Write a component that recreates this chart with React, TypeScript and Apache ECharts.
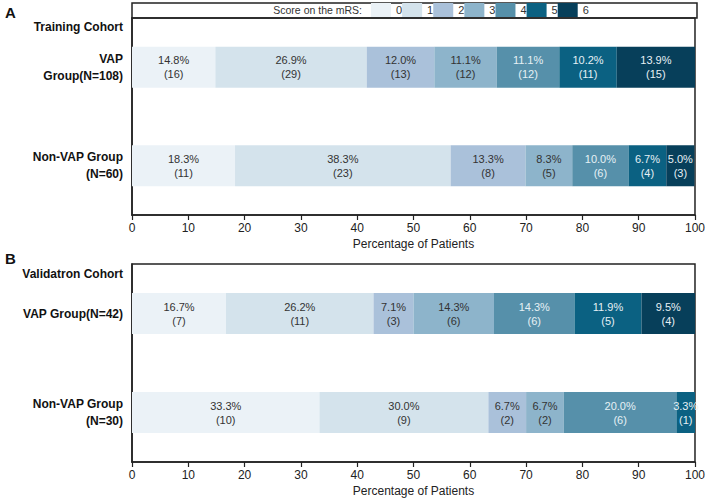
import React, { useEffect, useRef } from "react";
import * as echarts from "echarts";

const scores = ["0", "1", "2", "3", "4", "5", "6"];
const colors = ["#ebf2f7", "#d4e3ec", "#aac1da", "#8db4cb", "#5690aa", "#0b6182", "#073f5a"];
const labelColors = ["#333", "#333", "#333", "#333", "#e6f0f5", "#e6f0f5", "#e6f0f5"];

const trainingGroups = ["VAP\nGroup(N=108)", "Non-VAP Group\n(N=60)"];
const validationGroups = ["VAP Group(N=42)", "Non-VAP Group\n(N=30)"];

const trainVapPct = [14.8, 26.9, 12.0, 11.1, 11.1, 10.2, 13.9];
const trainVapN = [16, 29, 13, 12, 12, 11, 15];
const trainNonPct = [18.3, 38.3, 13.3, 8.3, 10.0, 6.7, 5.0];
const trainNonN = [11, 23, 8, 5, 6, 4, 3];
const valVapPct = [16.7, 26.2, 7.1, 14.3, 14.3, 11.9, 9.5];
const valVapN = [7, 11, 3, 6, 6, 5, 4];
const valNonPct = [33.3, 30.0, 6.7, 6.7, 20.0, 3.3, 0];
const valNonN = [10, 9, 2, 2, 6, 1, 0];

const xTicks = { min: 0, max: 100, interval: 10 };

export default function App() {
  const ref = useRef<HTMLDivElement>(null);
  useEffect(() => {
    if (!ref.current) return;
    const chart = echarts.init(ref.current, null, { renderer: "svg" });
    const font = "Liberation Sans, Arial, sans-serif";

    const makeSeries = (gridIdx: number, pctA: number[], nA: number[], pctB: number[], nB: number[]) =>
      scores.map((s, i) => ({
        name: s,
        type: "bar",
        stack: "g" + gridIdx,
        xAxisIndex: gridIdx,
        yAxisIndex: gridIdx,
        barWidth: 41,
        itemStyle: { color: colors[i] },
        data: [
          { value: pctA[i], n: nA[i] },
          { value: pctB[i], n: nB[i] },
        ],
        label: {
          show: true,
          position: "inside",
          fontFamily: font,
          fontSize: 11,
          lineHeight: 14,
          color: labelColors[i],
          formatter: (p: any) =>
            p.value > 0 ? p.value.toFixed(1) + "%\n(" + p.data.n + ")" : "",
        },
      }));

    const xAxis = (gridIndex: number) => ({
      type: "value",
      gridIndex,
      ...xTicks,
      name: "Percentage of Patients",
      nameLocation: "middle",
      nameGap: 23,
      nameTextStyle: { fontFamily: font, fontSize: 12, color: "#222" },
      axisLine: { show: true, lineStyle: { color: "#222", width: 1.5 } },
      axisTick: { show: true, length: 5, lineStyle: { color: "#222", width: 1.2 } },
      axisLabel: { fontFamily: font, fontSize: 12, color: "#222", margin: 7 },
      splitLine: { show: false },
    });
    const yAxis = (gridIndex: number, data: string[]) => ({
      type: "category",
      gridIndex,
      data,
      inverse: true,
      axisLine: { show: true, lineStyle: { color: "#222", width: 1.5 } },
      axisTick: { show: false },
      axisLabel: {
        fontFamily: font,
        fontSize: 12,
        fontWeight: "bold",
        color: "#111",
        lineHeight: 17,
        margin: 9,
      },
    });

    chart.setOption({
      animation: false,
      legend: {
        data: scores,
        left: 371,
        top: 3,
        padding: 0,
        itemWidth: 20,
        itemHeight: 14,
        itemGap: 0,
        icon: "rect",
        selectedMode: false,
        textStyle: { fontFamily: font, fontSize: 11, color: "#333" },
      },
      grid: [
        { left: 132, right: 11, top: 18, height: 197, show: true, borderColor: "#222", borderWidth: 1.5 },
        { left: 132, right: 11, top: 264, height: 198, show: true, borderColor: "#222", borderWidth: 1.5 },
      ],
      xAxis: [xAxis(0), xAxis(1)],
      yAxis: [yAxis(0, trainingGroups), yAxis(1, validationGroups)],
      series: [
        ...makeSeries(0, trainVapPct, trainVapN, trainNonPct, trainNonN),
        ...makeSeries(1, valVapPct, valVapN, valNonPct, valNonN),
      ],
      graphic: [
        {
          type: "rect",
          shape: { x: 132, y: 3, width: 565, height: 15 },
          style: { fill: "none", stroke: "#222", lineWidth: 1.5 },
          silent: true,
        },
        {
          type: "text",
          x: 362,
          y: 10,
          style: { text: "Score on the mRS:", font: "10.5px " + font, fill: "#333", textAlign: "right", textVerticalAlign: "middle" },
        },
        {
          type: "text",
          x: 5,
          y: 12,
          style: { text: "A", font: "bold 15px " + font, fill: "#111", textVerticalAlign: "middle" },
        },
        {
          type: "text",
          x: 5,
          y: 258,
          style: { text: "B", font: "bold 15px " + font, fill: "#111", textVerticalAlign: "middle" },
        },
        {
          type: "text",
          x: 123,
          y: 27,
          style: { text: "Training Cohort", font: "bold 12px " + font, fill: "#111", textAlign: "right", textVerticalAlign: "middle" },
        },
        {
          type: "text",
          x: 123,
          y: 274,
          style: { text: "Validatron Cohort", font: "bold 12px " + font, fill: "#111", textAlign: "right", textVerticalAlign: "middle" },
        },
      ],
    });
    return () => chart.dispose();
  }, []);
  return <div ref={ref} style={{ width: 708, height: 500, position: "absolute", left: 0, top: 0 }} />;
}
